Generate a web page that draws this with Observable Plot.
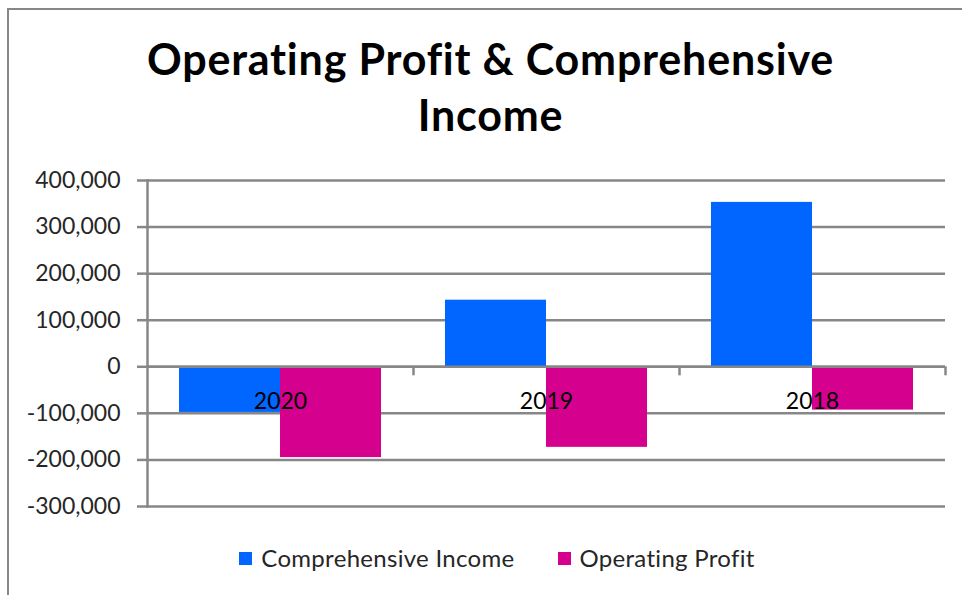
<!DOCTYPE html>
<html>
<head>
<meta charset="utf-8">
<script src="https://cdn.jsdelivr.net/npm/d3@7"></script>
<script src="https://cdn.jsdelivr.net/npm/@observablehq/plot@0.6"></script>
<style>
  html, body { margin: 0; padding: 0; background: #fff; }
  * { font-variant-ligatures: none; font-feature-settings: "liga" 0; }
  #wrap { position: relative; width: 962px; height: 595px; overflow: hidden; background: #fff; font-family: Lato, "Open Sans", sans-serif; }
  #border { position: absolute; left: 7px; top: 8px; width: 1000px; height: 700px; border: 2.5px solid #878787; box-sizing: border-box; }
  #chart { position: absolute; left: 0; top: 0; }
  #chart svg text { font-variant-ligatures: none; }
  #title { position: absolute; left: 0; top: 31px; width: 981px; text-align: center; font-family: Lato, sans-serif; font-weight: 700; font-size: 43px; letter-spacing: 0.8px; line-height: 56px; color: #000; }
  #legend { position: absolute; left: 0; top: 542px; width: 994px; display: flex; justify-content: center; align-items: center; font-family: Lato, sans-serif; font-size: 24px; letter-spacing: 0.3px; color: #262626; line-height: 32px; }
  .item { display: flex; align-items: center; }
  .item + .item { margin-left: 43px; }
  .sw { width: 13px; height: 13px; margin-right: 9px; }
</style>
</head>
<body>
<div id="wrap">
  <div id="border"></div>
  <div id="chart"></div>
  <div id="title">Operating Profit &amp; Comprehensive<br>Income</div>
  <div id="legend"></div>
</div>
<script>
const years = ["2020", "2019", "2018"];
const comprehensiveIncome = [-98000, 143000, 353000];
const operatingProfit = [-195000, -173000, -93000];
const seriesNames = ["Comprehensive Income", "Operating Profit"];
const seriesColors = ["#0066FF", "#D6008F"];
const yTicks = [-300000, -200000, -100000, 0, 100000, 200000, 300000, 400000];

const ciData = years.map((year, i) => ({year, series: seriesNames[0], value: comprehensiveIncome[i]}));
const opData = years.map((year, i) => ({year, series: seriesNames[1], value: operatingProfit[i]}));
const fmt = d => d.toLocaleString("en-US");
const gray = "#878787";

const chart = Plot.plot({
  width: 962,
  height: 595,
  marginTop: 180,
  marginBottom: 89,
  marginLeft: 147,
  marginRight: 17,
  style: {fontFamily: "Lato, sans-serif", background: "transparent", color: "#262626"},
  x: {domain: years, padding: 0, axis: null},
  y: {domain: [-300000, 400000], axis: null},
  color: {domain: seriesNames, range: seriesColors},
  marks: [
    Plot.gridY(yTicks, {stroke: gray, strokeOpacity: 1, strokeWidth: 2.5}),
    Plot.barY(ciData, {x: "year", y: "value", fill: "series", insetLeft: 32, insetRight: 133}),
    Plot.barY(opData, {x: "year", y: "value", fill: "series", insetLeft: 133, insetRight: 32}),
    Plot.ruleY([0], {stroke: gray, strokeWidth: 2.5}),
    Plot.ruleX(years, {x: d => d, y1: 0, y2: 0, insetBottom: -9, dx: 133, stroke: gray, strokeWidth: 2.5}),
    Plot.frame({anchor: "left", stroke: gray, strokeWidth: 2.5}),
    Plot.axisY(yTicks, {tickSize: 10, tickPadding: 17, stroke: gray, strokeWidth: 2.5, fontSize: 23, fill: "#262626", tickFormat: fmt, label: null}),
    Plot.text(years, {x: d => d, y: () => 0, dy: 35, fontSize: 23, fill: "#000"})
  ]
});
document.getElementById("chart").appendChild(chart);

const legendEl = document.getElementById("legend");
const colorScale = chart.scale("color");
seriesNames.forEach((name, i) => {
  const item = document.createElement("div");
  item.className = "item";
  const sw = document.createElement("span");
  sw.className = "sw";
  sw.style.background = colorScale.range[i];
  const label = document.createElement("span");
  label.textContent = name;
  item.appendChild(sw);
  item.appendChild(label);
  legendEl.appendChild(item);
});
</script>
</body>
</html>
